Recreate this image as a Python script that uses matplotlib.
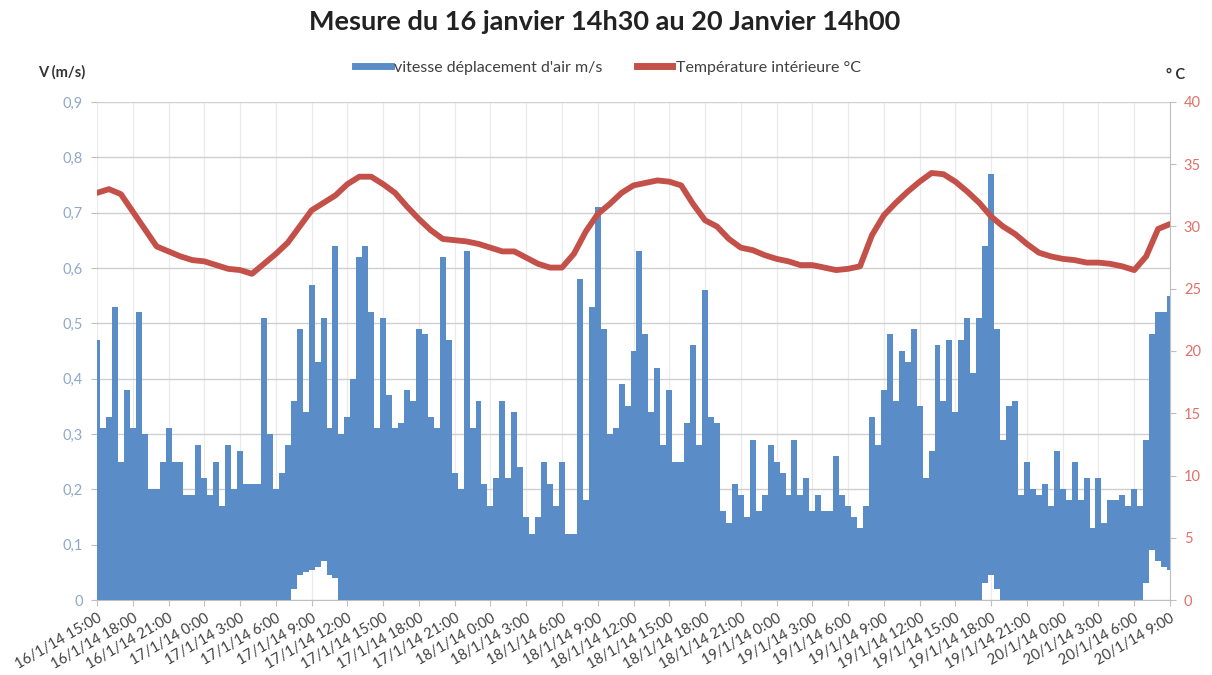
import numpy as np
import matplotlib
matplotlib.use("Agg")
import matplotlib.pyplot as plt
from matplotlib.lines import Line2D

plt.rcParams['font.family'] = ['Lato', 'DejaVu Sans']

title = "Mesure du 16 janvier 14h30 au 20 Janvier 14h00"
left_label = "V (m/s)"
right_label = "° C"
speed_name = "vitesse déplacement d'air m/s"
temp_name = "Température intérieure °C"

tick_labels = [
    "16/1/14 15:00", "16/1/14 18:00", "16/1/14 21:00",
    "17/1/14 0:00", "17/1/14 3:00", "17/1/14 6:00", "17/1/14 9:00",
    "17/1/14 12:00", "17/1/14 15:00", "17/1/14 18:00", "17/1/14 21:00",
    "18/1/14 0:00", "18/1/14 3:00", "18/1/14 6:00", "18/1/14 9:00",
    "18/1/14 12:00", "18/1/14 15:00", "18/1/14 18:00", "18/1/14 21:00",
    "19/1/14 0:00", "19/1/14 3:00", "19/1/14 6:00", "19/1/14 9:00",
    "19/1/14 12:00", "19/1/14 15:00", "19/1/14 18:00", "19/1/14 21:00",
    "20/1/14 0:00", "20/1/14 3:00", "20/1/14 6:00", "20/1/14 9:00",
]

# air speed (m/s), every 30 min from 16/1/14 15:00 (peak of each half hour)
speed = [
    0.47, 0.31, 0.33, 0.53, 0.25, 0.38, 0.31, 0.52, 0.30, 0.20,
    0.20, 0.25, 0.31, 0.25, 0.25, 0.19, 0.19, 0.28, 0.22, 0.19,
    0.25, 0.17, 0.28, 0.20, 0.27, 0.21, 0.21, 0.21, 0.51, 0.30,
    0.20, 0.23, 0.28, 0.36, 0.49, 0.34, 0.57, 0.43, 0.51, 0.31,
    0.64, 0.30, 0.33, 0.40, 0.62, 0.64, 0.52, 0.31, 0.51, 0.37,
    0.31, 0.32, 0.38, 0.36, 0.49, 0.48, 0.33, 0.31, 0.62, 0.47,
    0.23, 0.20, 0.63, 0.31, 0.36, 0.21, 0.17, 0.22, 0.36, 0.22,
    0.34, 0.24, 0.15, 0.12, 0.15, 0.25, 0.21, 0.17, 0.25, 0.12,
    0.12, 0.58, 0.18, 0.53, 0.71, 0.49, 0.30, 0.31, 0.39, 0.35,
    0.45, 0.63, 0.48, 0.34, 0.42, 0.28, 0.38, 0.25, 0.25, 0.32,
    0.46, 0.28, 0.56, 0.33, 0.32, 0.16, 0.14, 0.21, 0.19, 0.15,
    0.29, 0.16, 0.19, 0.28, 0.25, 0.23, 0.19, 0.29, 0.19, 0.22,
    0.16, 0.19, 0.16, 0.16, 0.26, 0.19, 0.17, 0.15, 0.13, 0.17,
    0.33, 0.28, 0.38, 0.48, 0.36, 0.45, 0.43, 0.49, 0.35, 0.22,
    0.27, 0.46, 0.36, 0.47, 0.34, 0.47, 0.51, 0.41, 0.51, 0.64,
    0.77, 0.49, 0.29, 0.35, 0.36, 0.19, 0.25, 0.20, 0.19, 0.21,
    0.17, 0.27, 0.20, 0.18, 0.25, 0.18, 0.22, 0.13, 0.22, 0.14,
    0.18, 0.18, 0.19, 0.17, 0.20, 0.17, 0.29, 0.48, 0.52, 0.52, 0.55,
]

# lowest air speed reached in each half hour (m/s)
speed_min = [
    0, 0, 0, 0, 0, 0, 0, 0, 0, 0,
    0, 0, 0, 0, 0, 0, 0, 0, 0, 0,
    0, 0, 0, 0, 0, 0, 0, 0, 0, 0,
    0, 0, 0, 0.02, 0.045, 0.05, 0.055, 0.06, 0.07, 0.045,
    0.04, 0, 0, 0, 0, 0, 0, 0, 0, 0,
    0, 0, 0, 0, 0, 0, 0, 0, 0, 0,
    0, 0, 0, 0, 0, 0, 0, 0, 0, 0,
    0, 0, 0, 0, 0, 0, 0, 0, 0, 0,
    0, 0, 0, 0, 0, 0, 0, 0, 0, 0,
    0, 0, 0, 0, 0, 0, 0, 0, 0, 0,
    0, 0, 0, 0, 0, 0, 0, 0, 0, 0,
    0, 0, 0, 0, 0, 0, 0, 0, 0, 0,
    0, 0, 0, 0, 0, 0, 0, 0, 0, 0,
    0, 0, 0, 0, 0, 0, 0, 0, 0, 0,
    0, 0, 0, 0, 0, 0, 0, 0, 0, 0.03,
    0.045, 0.02, 0, 0, 0, 0, 0, 0, 0, 0,
    0, 0, 0, 0, 0, 0, 0, 0, 0, 0,
    0, 0, 0, 0, 0, 0, 0.03, 0.09, 0.07, 0.06, 0.055,
]

# indoor temperature (°C), hourly from 16/1/14 15:00
temperature = [
    32.7, 33.0, 32.6, 31.2, 29.8, 28.4, 28.0, 27.6, 27.3, 27.2,
    26.9, 26.6, 26.5, 26.2, 27.0, 27.8, 28.7, 30.0, 31.3, 31.9,
    32.5, 33.4, 34.0, 34.0, 33.4, 32.7, 31.6, 30.6, 29.7, 29.0,
    28.9, 28.8, 28.6, 28.3, 28.0, 28.0, 27.5, 27.0, 26.7, 26.7,
    27.8, 29.6, 31.0, 31.8, 32.7, 33.3, 33.5, 33.7, 33.6, 33.3,
    31.8, 30.5, 30.0, 29.0, 28.3, 28.1, 27.7, 27.4, 27.2, 26.9,
    26.9, 26.7, 26.5, 26.6, 26.8, 29.3, 30.9, 31.9, 32.8, 33.6,
    34.3, 34.2, 33.6, 32.8, 31.9, 30.8, 30.0, 29.4, 28.6, 27.9,
    27.6, 27.4, 27.3, 27.1, 27.1, 27.0, 26.8, 26.5, 27.6, 29.8,
    30.2,
]

left_ticks = [0, 0.1, 0.2, 0.3, 0.4, 0.5, 0.6, 0.7, 0.8, 0.9]
left_tick_text = ["0", "0,1", "0,2", "0,3", "0,4", "0,5", "0,6", "0,7", "0,8", "0,9"]
right_ticks = [0, 5, 10, 15, 20, 25, 30, 35, 40]

blue = "#5A8DC8"
red = "#C4504A"

fig = plt.figure(figsize=(12.12, 6.75), dpi=100)
ax = fig.add_axes([97 / 1212, 1 - 600 / 675, (1170 - 97) / 1212, (600 - 102) / 675])

t_speed = np.arange(len(speed)) * 0.5
t_temp = np.arange(len(temperature)) * 1.0
t_ticks = np.arange(len(tick_labels)) * 3.0

ax.fill_between(t_speed, speed_min, speed, step="mid", color=blue, lw=0, zorder=3)
ax.set_xlim(0, 90)
ax.set_ylim(0, 0.9)
ax.set_yticks(left_ticks)
ax.set_yticklabels(left_tick_text, color="#8FA8CC", fontsize=10.5)
ax.set_xticks(t_ticks)
ax.set_xticklabels(tick_labels, rotation=30, ha="right", va="top",
                   rotation_mode="anchor", fontsize=10.5, color="#404040")
ax.tick_params(axis="x", length=4, color="#BFBFBF", pad=4)
ax.tick_params(axis="y", length=4, color="#BFBFBF", pad=6)
ax.grid(axis="y", color="#CFCFCF", lw=1.0, zorder=0)
ax.grid(axis="x", color="#EBEBEB", lw=0.9, zorder=0)
ax.set_axisbelow(True)
for s in ["top", "left"]:
    ax.spines[s].set_visible(False)
ax.spines["bottom"].set_color("#BFBFBF")
ax.spines["right"].set_visible(False)

ax2 = ax.twinx()
ax2.plot(t_temp, temperature, color=red, lw=4.2, solid_capstyle="round", zorder=5)
ax2.set_ylim(0, 40)
ax2.set_yticks(right_ticks)
ax2.set_yticklabels([str(v) for v in right_ticks], color="#E07068", fontsize=10.5)
ax2.tick_params(axis="y", length=4, color="#BFBFBF", pad=6)
for s in ["top", "left", "bottom"]:
    ax2.spines[s].set_visible(False)
ax2.spines["right"].set_color("#BFBFBF")

fig.text(605 / 1212, 1 - 22 / 675, title, ha="center", va="center", fontsize=19.5, fontweight="bold", color="#222222")
fig.text(62 / 1212, 1 - 72 / 675, left_label, ha="center", va="center", fontsize=10.5, fontweight="bold", color="#333333")
fig.text(1176 / 1212, 1 - 75 / 675, right_label, ha="center", va="center", fontsize=10.5, fontweight="bold", color="#333333")

handles = [Line2D([], [], color=blue, lw=5), Line2D([], [], color=red, lw=5)]
fig.legend(handles, [speed_name, temp_name], loc="center", bbox_to_anchor=(608 / 1212, 1 - 68 / 675),
           ncol=2, frameon=False, fontsize=11.5, handlelength=2.2, handletextpad=0.2,
           columnspacing=2.2, labelcolor="#404040")

fig.savefig("out.png", dpi=100)
